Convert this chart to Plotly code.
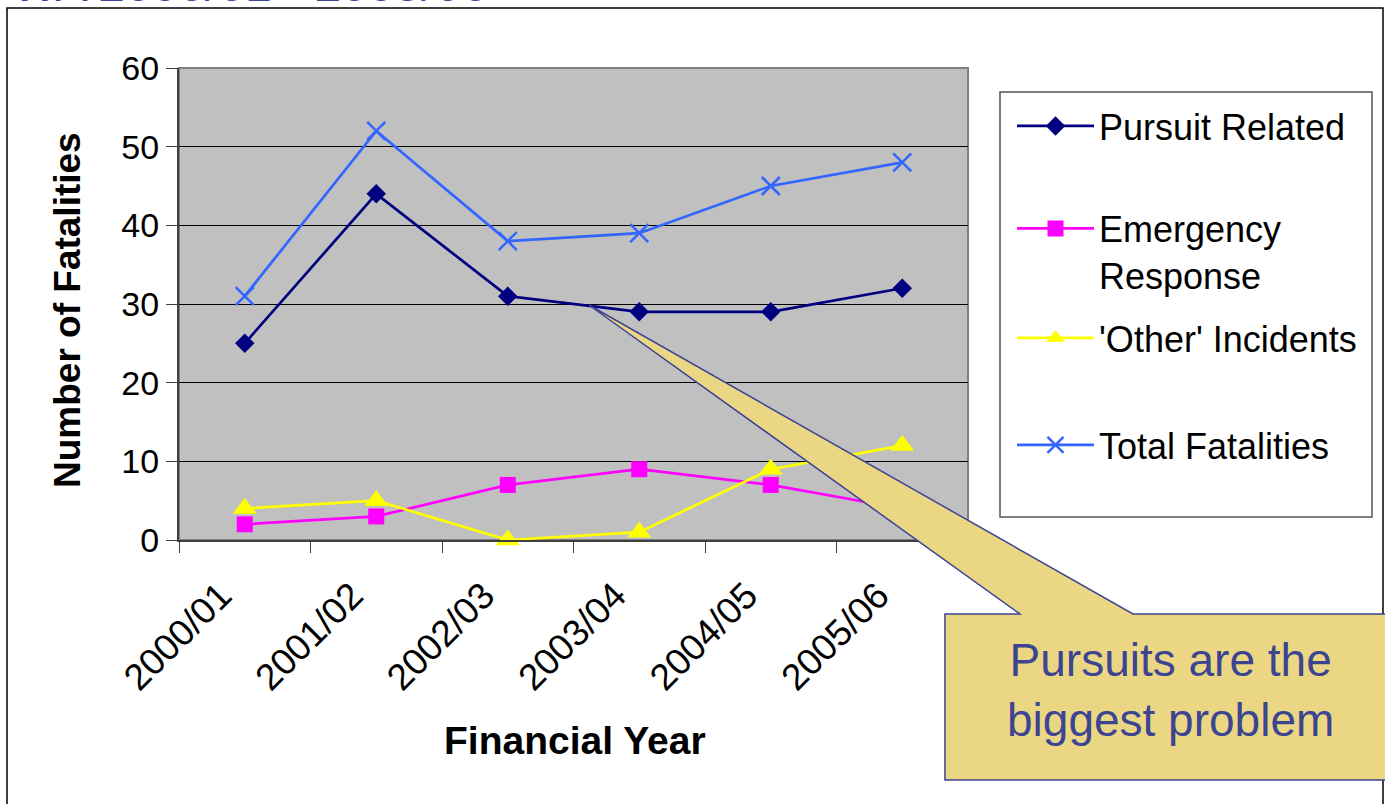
import plotly.graph_objects as go

categories = ["2000/01", "2001/02", "2002/03", "2003/04", "2004/05", "2005/06"]
pursuit = [25, 44, 31, 29, 29, 32]
emergency = [2, 3, 7, 9, 7, 4]
other = [4, 5, 0, 1, 9, 12]
total = [31, 52, 38, 39, 45, 48]

FONT = "Liberation Sans, Arial, sans-serif"

# plot area in pixels
W, H = 1385, 804
L, R, T, B = 179, 968, 68, 540


def px(x):
    return (x - L) / (R - L)


def py(y):
    return (B - y) / (B - T)


fig = go.Figure()

fig.add_trace(go.Scatter(
    x=categories, y=pursuit, name="Pursuit Related", mode="lines+markers",
    line=dict(color="#000080", width=2.7),
    marker=dict(symbol="diamond", size=15, color="#000080"),
    cliponaxis=False, legend="legend"))
fig.add_trace(go.Scatter(
    x=categories, y=emergency, name="Emergency<br>Response", mode="lines+markers",
    line=dict(color="#FF00FF", width=2.7),
    marker=dict(symbol="square", size=16, color="#FF00FF"),
    cliponaxis=False, legend="legend2"))
fig.add_trace(go.Scatter(
    x=categories, y=other, name="'Other' Incidents", mode="lines+markers",
    line=dict(color="#FFFF00", width=2.7),
    marker=dict(symbol="triangle-up", size=21, color="#FFFF00"),
    cliponaxis=False, legend="legend3"))
fig.add_trace(go.Scatter(
    x=categories, y=total, name="Total Fatalities", mode="lines+markers",
    line=dict(color="#3366FF", width=2.7),
    marker=dict(symbol="x-thin", size=18, color="#3366FF",
                line=dict(color="#3366FF", width=2.5)),
    cliponaxis=False, legend="legend4"))

leg_common = dict(bgcolor="rgba(0,0,0,0)", borderwidth=0,
                  font=dict(family=FONT, size=36, color="black"),
                  xanchor="left", yanchor="middle", itemwidth=77,
                  itemsizing="trace")
legx = px(1012)

shapes = []
# outer chart border
shapes.append(dict(type="rect", xref="paper", yref="paper",
                   x0=px(7), x1=px(1383), y0=py(830), y1=py(8),
                   line=dict(color="black", width=1.5), fillcolor="rgba(0,0,0,0)",
                   layer="below"))
# plot area border (top/right)
shapes.append(dict(type="rect", xref="paper", yref="paper",
                   x0=0, x1=1, y0=0, y1=1,
                   line=dict(color="#808080", width=2), fillcolor="rgba(0,0,0,0)",
                   layer="between"))
# legend box
shapes.append(dict(type="rect", xref="paper", yref="paper",
                   x0=px(1000), x1=px(1372), y0=py(517), y1=py(92),
                   line=dict(color="#555555", width=1.5), fillcolor="white",
                   layer="below"))
# callout
pts = [(945, 614), (1020, 614), (589, 305), (1133, 614), (1395, 614),
       (1395, 780), (945, 780)]
path = "M " + " L ".join(f"{px(x):.4f},{py(y):.4f}" for x, y in pts) + " Z"
shapes.append(dict(type="path", xref="paper", yref="paper", path=path,
                   fillcolor="#EBD783", line=dict(color="#3C4394", width=1.5),
                   layer="above"))

annotations = [
    dict(text="Number of Fatalities", xref="paper", yref="paper",
         x=px(67), y=py(310), textangle=-90, showarrow=False,
         xanchor="center", yanchor="middle",
         font=dict(family=FONT, size=37, color="black", weight="bold")),
    dict(text="Financial Year", xref="paper", yref="paper",
         x=px(575), y=py(740), showarrow=False,
         xanchor="center", yanchor="middle",
         font=dict(family=FONT, size=39, color="black", weight="bold")),
    dict(text="Pursuits are the<br>biggest problem", xref="paper", yref="paper",
         x=px(1170), y=py(690), showarrow=False,
         xanchor="center", yanchor="middle",
         font=dict(family=FONT, size=46, color="#3D4592")),
    dict(text="WA 2000/01 - 2005/06", xref="paper", yref="paper",
         x=px(10), y=py(-15), showarrow=False,
         xanchor="left", yanchor="middle",
         font=dict(family=FONT, size=48, color="#3D4592")),
]

fig.update_layout(
    width=W, height=H,
    margin=dict(l=L, r=W - R, t=T, b=H - B, pad=0),
    paper_bgcolor="white", plot_bgcolor="#C0C0C0",
    font=dict(family=FONT, color="black"),
    showlegend=True,
    legend=dict(leg_common, x=legx, y=py(126)),
    legend2=dict(leg_common, x=legx, y=py(252), valign="top"),
    legend3=dict(leg_common, x=legx, y=py(338)),
    legend4=dict(leg_common, x=legx, y=py(445)),
    shapes=shapes,
    annotations=annotations,
    xaxis=dict(type="category", categoryorder="array", categoryarray=categories,
               range=[-0.5, 5.5], tickson="boundaries", ticks="outside",
               ticklen=11, tickwidth=1, tickcolor="#404040",
               showline=True, linecolor="#404040", linewidth=2,
               showgrid=False, tickangle=-45,
               ticklabelshift=-24, ticklabelstandoff=17,
               tickfont=dict(family=FONT, size=37, color="black")),
    yaxis=dict(range=[0, 60], dtick=10, ticks="outside", ticklen=11,
               tickwidth=1, tickcolor="#404040",
               showline=True, linecolor="#404040", linewidth=2,
               showgrid=True, gridcolor="black", gridwidth=1,
               zeroline=False,
               tickfont=dict(family=FONT, size=34, color="black")),
)

fig.write_html("out.html",
               config={"displayModeBar": False},
               post_script="document.body.style.margin='0px';"
                           "document.body.style.overflow='hidden';")
